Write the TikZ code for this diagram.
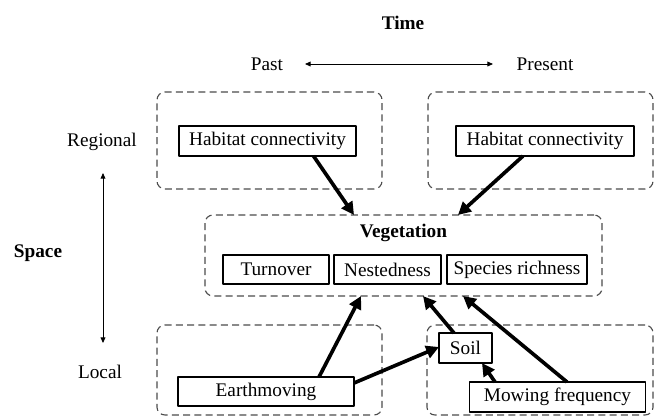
\documentclass[tikz,border=0pt]{standalone}
\usepackage{fontspec}
\setmainfont{Liberation Serif}
\usepackage{tikz}
\usetikzlibrary{calc}
\usetikzlibrary{arrows.meta}
\tikzstyle{every node}=[font=\fontsize{13.7}{16}\selectfont]
\tikzstyle{box}=[draw, line width=1.3pt, inner sep=0pt, outer sep=0pt, minimum height=0.75cm]
\tikzstyle{group}=[draw=black!70, line width=0.8pt, dash pattern=on 5pt off 3pt, rounded corners=0.2cm, inner sep=0pt, outer sep=0pt]
\tikzstyle{flow}=[-{Triangle[length=0.32cm,width=0.32cm]}, line width=2.6pt]
\tikzstyle{axis}=[{Triangle[length=0.14cm,width=0.12cm]}-{Triangle[length=0.14cm,width=0.12cm]}, line width=0.6pt]

\begin{document}
\begin{tikzpicture}[line join=round,x=0.025cm,y=-0.025cm]
            \useasboundingbox (0,0) rectangle (654,417);
            % axes
            \node [font=\fontsize{13.7}{16}\selectfont\bfseries] (time) at (403,23) {Time};
            \node (past) at (267,64) {Past};
            \node (present) at (545,64) {Present};
            \coordinate (timeL) at (305,64);
            \coordinate (timeR) at (493,64);
            \draw [axis] (timeL) -- (timeR);
            \node (regional) at (102,142) {Regional};
            \node (local) at (100,372) {Local};
            \node [font=\fontsize{13.7}{16}\selectfont\bfseries] (space) at (38,253) {Space};
            \coordinate (spaceT) at (103,173);
            \coordinate (spaceB) at (103,343);
            \draw [axis] (spaceT) -- (spaceB);
            % dashed frames
            \node [group, minimum width=5.625cm, minimum height=2.425cm] (regPast) at (269.5,140.5) {};
            \node [group, minimum width=5.625cm, minimum height=2.425cm] (regPresent) at (540.5,140.5) {};
            \node [group, minimum width=9.925cm, minimum height=2.025cm] (veg) at (403.5,255.5) {};
            \node [group, minimum width=5.625cm, minimum height=2.25cm] (locPast) at (269.5,370) {};
            \node [group, minimum width=5.65cm, minimum height=2.25cm] (locPresent) at (540,370) {};
            \node [font=\fontsize{13.7}{16}\selectfont\bfseries] (vegTitle) at (403.5,233) {Vegetation};
            % boxes
            \node [box, minimum width=4.425cm] (hcPast) at (267.5,141) {Habitat connectivity};
            \node [box, minimum width=4.45cm] (hcPresent) at (545,141) {Habitat connectivity};
            \node [box, minimum width=2.65cm, minimum height=0.725cm] (turnover) at (276,269.5) {Turnover};
            \node [box, minimum width=2.675cm, minimum height=0.725cm] (nested) at (387.5,269.5) {Nestedness};
            \node [box, minimum width=3.5cm, minimum height=0.725cm] (richness) at (517,269.5) {Species richness};
            \node [box, minimum width=1.325cm] (soil) at (465.5,348) {Soil};
            \node [box, minimum width=4.4cm, minimum height=0.725cm] (earth) at (266,391.5) {Earthmoving};
            \node [box, minimum width=4.4cm] (mowing) at (557.5,397) {Mowing frequency};
            % effects
            \draw [flow] ($(hcPast.south)+(46,0)$) -- ($(veg.north)+(-49.5,0)$);
            \draw [flow] ($(hcPresent.south)+(-22,0)$) -- ($(veg.north)+(54.5,0)$);
            \draw [flow] ($(earth.north)+(53,0)$) -- ($(veg.south)+(-42.5,0)$);
            \draw [flow] ($(earth.east)+(0,-8.5)$) -- ($(soil.west)+(0,-1)$);
            \draw [flow] ($(soil.north)+(-11.5,0)$) -- ($(veg.south)+(19.5,0)$);
            \draw [flow] ($(mowing.north)+(9.5,0)$) -- ($(veg.south)+(59.5,0)$);
            \draw [flow] ($(mowing.north)+(-62.5,0)$) -- ($(soil.south)+(16.5,0)$);
\end{tikzpicture}
\end{document}
